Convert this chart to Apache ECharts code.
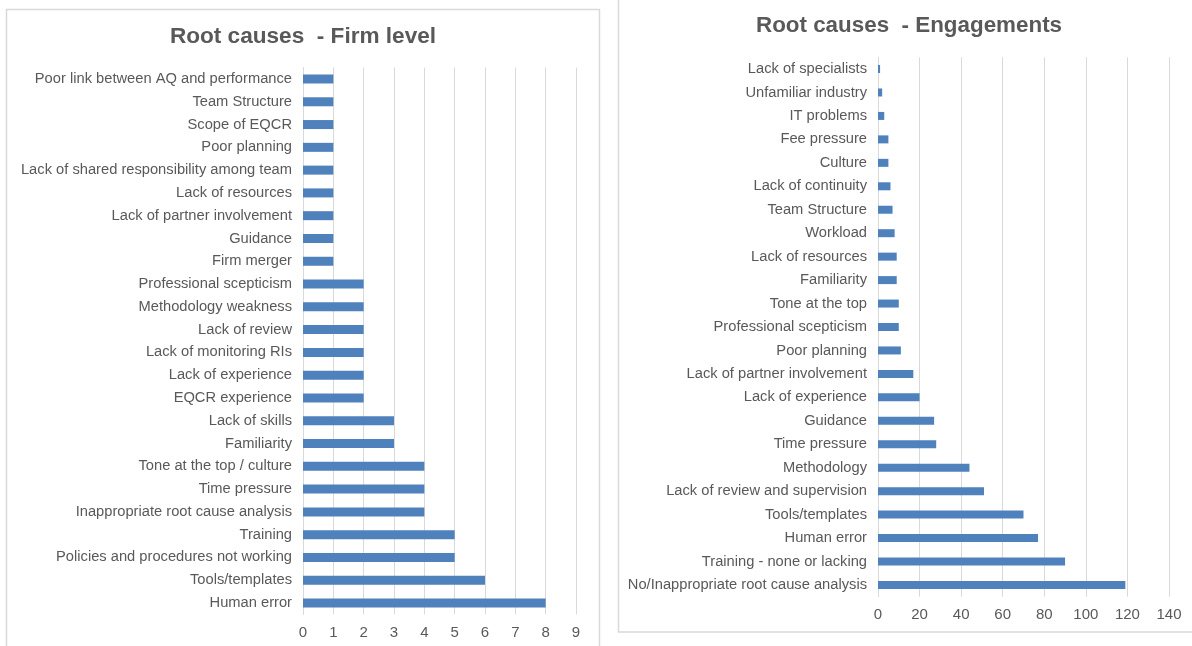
<!DOCTYPE html>
<html><head><meta charset="utf-8">
<script src="https://cdn.jsdelivr.net/npm/echarts@6/dist/echarts.min.js"></script>
<style>html,body{margin:0;padding:0;background:#fff}#c{width:1192px;height:646px}</style>
</head><body><div id="c"></div>
<script>
// Firm level (bottom to top)
const firmCategories = ["Human error","Tools/templates","Policies and procedures not working","Training","Inappropriate root cause analysis","Time pressure","Tone at the top / culture","Familiarity","Lack of skills","EQCR experience","Lack of experience","Lack of monitoring RIs","Lack of review","Methodology weakness","Professional scepticism","Firm merger","Guidance","Lack of partner involvement","Lack of resources","Lack of shared responsibility among team","Poor planning","Scope of EQCR","Team Structure","Poor link between AQ and performance"];
const firmValues = [8,6,5,5,4,4,4,3,3,2,2,2,2,2,2,1,1,1,1,1,1,1,1,1];
const firmTicks = [0,1,2,3,4,5,6,7,8,9];

// Engagements (bottom to top)
const engCategories = ["No/Inappropriate root cause analysis","Training - none or lacking","Human error","Tools/templates","Lack of review and supervision","Methodology","Time pressure","Guidance","Lack of experience","Lack of partner involvement","Poor planning","Professional scepticism","Tone at the top","Familiarity","Lack of resources","Workload","Team Structure","Lack of continuity","Culture","Fee pressure","IT problems","Unfamiliar industry","Lack of specialists"];
const engValues = [119,90,77,70,51,44,28,27,20,17,11,10,10,9,9,8,7,6,5,5,3,2,1];
const engTicks = [0,20,40,60,80,100,120,140];

const FONT = "'Liberation Sans', Arial, sans-serif";
const TXT = '#595959';
const GRID = '#d9d9d9';
const BAR = '#4f81bd';

function xAx(idx, ticks) {
  return {
    type: 'value', gridIndex: idx, min: ticks[0], max: ticks[ticks.length-1],
    interval: ticks[1]-ticks[0],
    axisLine: {show:false}, axisTick: {show:false},
    axisLabel: {color: TXT, fontSize: 15, fontFamily: FONT, margin: 11},
    splitLine: {lineStyle: {color: GRID, width: 1}}
  };
}
function yAx(idx, cats) {
  return {
    type: 'category', gridIndex: idx, data: cats,
    axisLine: {show:true, lineStyle:{color: GRID}}, axisTick: {show:false},
    axisLabel: {color: TXT, fontSize: 14.7, fontFamily: FONT, margin: 11, interval: 0}
  };
}

const chart = echarts.init(document.getElementById('c'), null, {renderer:'canvas'});
chart.setOption({
  animation: false,
  backgroundColor: '#fff',
  title: [
    {text: 'Root causes  - Firm level', left: 298, top: 20, textAlign: 'center',
     textStyle: {color: TXT, fontSize: 22.6, fontWeight: 'bold', fontFamily: FONT}},
    {text: 'Root causes  - Engagements', left: 904, top: 10, textAlign: 'center',
     textStyle: {color: TXT, fontSize: 22.4, fontWeight: 'bold', fontFamily: FONT}}
  ],
  graphic: [
    {type:'rect', shape:{x:6.5, y:9.5, width:593, height:660}, style:{fill:'none', stroke:GRID, lineWidth:1.5}, silent:true, z:-1},
    {type:'rect', shape:{x:618.5, y:-20, width:620, height:652}, style:{fill:'none', stroke:GRID, lineWidth:1.5}, silent:true, z:-1}
  ],
  grid: [
    {left: 303, right: 616, top: 67.6, bottom: 31.6, containLabel: false},
    {left: 878, right: 23, top: 57.3, bottom: 49.3, containLabel: false}
  ],
  xAxis: [xAx(0, firmTicks), xAx(1, engTicks)],
  yAxis: [yAx(0, firmCategories), yAx(1, engCategories)],
  series: [
    {type:'bar', xAxisIndex:0, yAxisIndex:0, data: firmValues, barWidth: 9,
     itemStyle:{color: BAR}},
    {type:'bar', xAxisIndex:1, yAxisIndex:1, data: engValues, barWidth: 8,
     itemStyle:{color: BAR}}
  ]
});
</script></body></html>
